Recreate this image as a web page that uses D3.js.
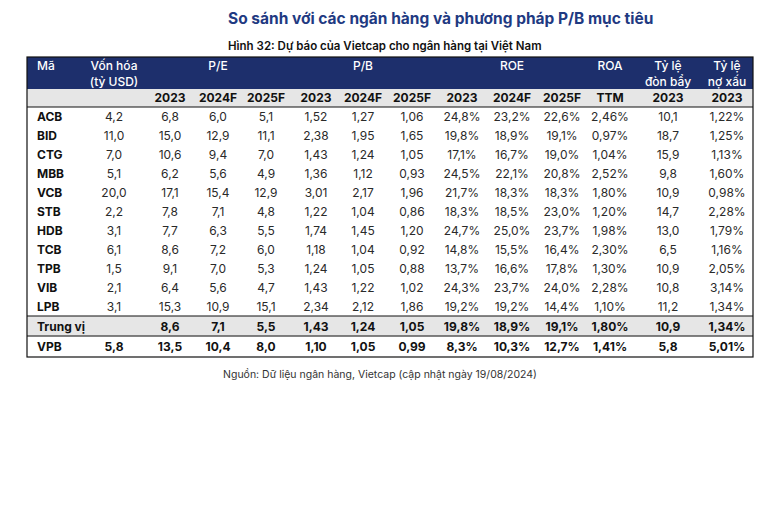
<!DOCTYPE html>
<html><head><meta charset="utf-8">
<script src="https://cdn.jsdelivr.net/npm/d3@7"></script>
<style>
html,body{margin:0;padding:0;background:#fff;}
svg{display:block;font-family:Inter,"Noto Sans",sans-serif;}
</style></head>
<body><svg id="chart" width="782" height="516"></svg>
<script>
// ---- data ----
const banks = ["ACB","BID","CTG","MBB","VCB","STB","HDB","TCB","TPB","VIB","LPB","Trung vị","VPB"];
const marketCap = [4.2,11.0,7.0,5.1,20.0,2.2,3.1,6.1,1.5,2.1,3.1,null,5.8];
const pe2023  = [6.8,15.0,10.6,6.2,17.1,7.8,7.7,8.6,9.1,6.4,15.3,8.6,13.5];
const pe2024F = [6.0,12.9,9.4,5.6,15.4,7.1,6.3,7.2,7.0,5.6,10.9,7.1,10.4];
const pe2025F = [5.1,11.1,7.0,4.9,12.9,4.8,5.5,6.0,5.3,4.7,15.1,5.5,8.0];
const pb2023  = [1.52,2.38,1.43,1.36,3.01,1.22,1.74,1.18,1.24,1.43,2.34,1.43,1.10];
const pb2024F = [1.27,1.95,1.24,1.12,2.17,1.04,1.45,1.04,1.05,1.22,2.12,1.24,1.05];
const pb2025F = [1.06,1.65,1.05,0.93,1.96,0.86,1.20,0.92,0.88,1.02,1.86,1.05,0.99];
const roe2023  = [24.8,19.8,17.1,24.5,21.7,18.3,24.7,14.8,13.7,24.3,19.2,19.8,8.3];
const roe2024F = [23.2,18.9,16.7,22.1,18.3,18.5,25.0,15.5,16.6,23.7,19.2,18.9,10.3];
const roe2025F = [22.6,19.1,19.0,20.8,18.3,23.0,23.7,16.4,17.8,24.0,14.4,19.1,12.7];
const roaTTM   = [2.46,0.97,1.04,2.52,1.80,1.20,1.98,2.30,1.30,2.28,1.10,1.80,1.41];
const leverage2023 = [10.1,18.7,15.9,9.8,10.9,14.7,13.0,6.5,10.9,10.8,11.2,10.9,5.8];
const npl2023  = [1.22,1.25,1.13,1.60,0.98,2.28,1.79,1.16,2.05,3.14,1.34,1.34,5.01];

const yearLabels = ["2023","2024F","2025F","2023","2024F","2025F","2023","2024F","2025F","TTM","2023","2023"];
const groupLabels = [["Vốn hóa","(tỷ USD)"],["P/E"],["P/B"],["ROE"],["ROA"],["Tỷ lệ","đòn bẩy"],["Tỷ lệ","nợ xấu"]];

const title = "So sánh với các ngân hàng và phương pháp P/B mục tiêu";
const subtitle = "Hình 32: Dự báo của Vietcap cho ngân hàng tại Việt Nam";
const source = "Nguồn: Dữ liệu ngân hàng, Vietcap (cập nhật ngày 19/08/2024)";

// ---- formatting ----
const vn = d3.formatLocale({decimal:",",thousands:".",grouping:[3],currency:["","₫"]});
const f1 = vn.format(".1f"), f2 = vn.format(".2f");
const p1 = v => f1(v)+"%", p2 = v => f2(v)+"%";

const columns = [
  {key:"cap", vals:marketCap, fmt:f1},
  {key:"pe23", vals:pe2023, fmt:f1},
  {key:"pe24", vals:pe2024F, fmt:f1},
  {key:"pe25", vals:pe2025F, fmt:f1},
  {key:"pb23", vals:pb2023, fmt:f2},
  {key:"pb24", vals:pb2024F, fmt:f2},
  {key:"pb25", vals:pb2025F, fmt:f2},
  {key:"roe23", vals:roe2023, fmt:p1},
  {key:"roe24", vals:roe2024F, fmt:p1},
  {key:"roe25", vals:roe2025F, fmt:p1},
  {key:"roa", vals:roaTTM, fmt:p2},
  {key:"lev", vals:leverage2023, fmt:f1},
  {key:"npl", vals:npl2023, fmt:p2}
];

// ---- layout ----
const svg = d3.select("#chart");
const L = 27, R = 753;
const navy = "#1d2f6c", grey = "#e6e6e6";

const x = d3.scaleOrdinal()
  .domain(columns.map(c=>c.key))
  .range([114,170,218,266,316,363,412,462,512,562,610,668,727]);

const dataRows = banks.slice(0,11);
const y = d3.scaleBand().domain(dataRows).range([107,316]);
const ySpecial = d3.scaleBand().domain(["Trung vị","VPB"]).range([316,357]);
const rowY = b => (dataRows.includes(b) ? y(b)+y.bandwidth()/2 : ySpecial(b)+ySpecial.bandwidth()/2);

// title
svg.append("text").attr("x",228).attr("y",24).attr("font-size",15.5).attr("font-weight",700)
  .attr("fill","#1f3a82").text(title);
svg.append("text").attr("x",228).attr("y",50).attr("font-size",11.5).attr("font-weight",600)
  .attr("fill","#111").text(subtitle);

// header background
svg.append("rect").attr("x",L).attr("y",57).attr("width",R-L).attr("height",32).attr("fill",navy);
svg.append("rect").attr("x",L).attr("y",89).attr("width",R-L).attr("height",18).attr("fill",grey);
svg.append("rect").attr("x",L).attr("y",ySpecial("Trung vị")).attr("width",R-L).attr("height",ySpecial.bandwidth()).attr("fill",grey);

// header labels
const hdr = svg.append("g").attr("fill","#fff").attr("font-size",12).attr("font-weight",500);
hdr.append("text").attr("x",37).attr("y",70).text("Mã");
const groupX = [x("cap"), x("pe24"), x("pb24"), x("roe24"), x("roa"), x("lev"), x("npl")];
groupLabels.forEach((lines,i)=>{
  lines.forEach((t,j)=>{
    hdr.append("text").attr("x",groupX[i]).attr("y",70+j*16).attr("text-anchor","middle").text(t);
  });
});
svg.append("g").attr("font-size",12).attr("font-weight",700).attr("fill","#111")
  .selectAll("text").data(yearLabels).join("text")
  .attr("x",(d,i)=>x(columns[i+1].key)).attr("y",102).attr("text-anchor","middle").text(d=>d);

// body
const body = svg.append("g").attr("font-size",12).attr("fill","#222");
banks.forEach((b,ri)=>{
  const bold = b==="Trung vị" || b==="VPB";
  const yy = rowY(b)+4.3;
  body.append("text").attr("x",37).attr("y",yy).attr("font-weight",700).attr("fill","#111").text(b);
  columns.forEach(c=>{
    const v = c.vals[ri];
    if (v==null) return;
    body.append("text").attr("x",x(c.key)).attr("y",yy).attr("text-anchor","middle")
      .attr("font-weight",bold?700:400).attr("fill",bold?"#111":"#2a2a2a").text(c.fmt(v));
  });
});

// lines
const ln = svg.append("g").attr("stroke","#111").attr("stroke-width",1.2);
[107,316,336].forEach(v=>ln.append("line").attr("x1",L).attr("x2",R).attr("y1",v).attr("y2",v));
ln.append("rect").attr("x",L).attr("y",57).attr("width",R-L).attr("height",300).attr("fill","none");

// source
svg.append("text").attr("x",380).attr("y",378).attr("text-anchor","middle").attr("font-size",10.5)
  .attr("fill","#333").text(source);
</script></body></html>
